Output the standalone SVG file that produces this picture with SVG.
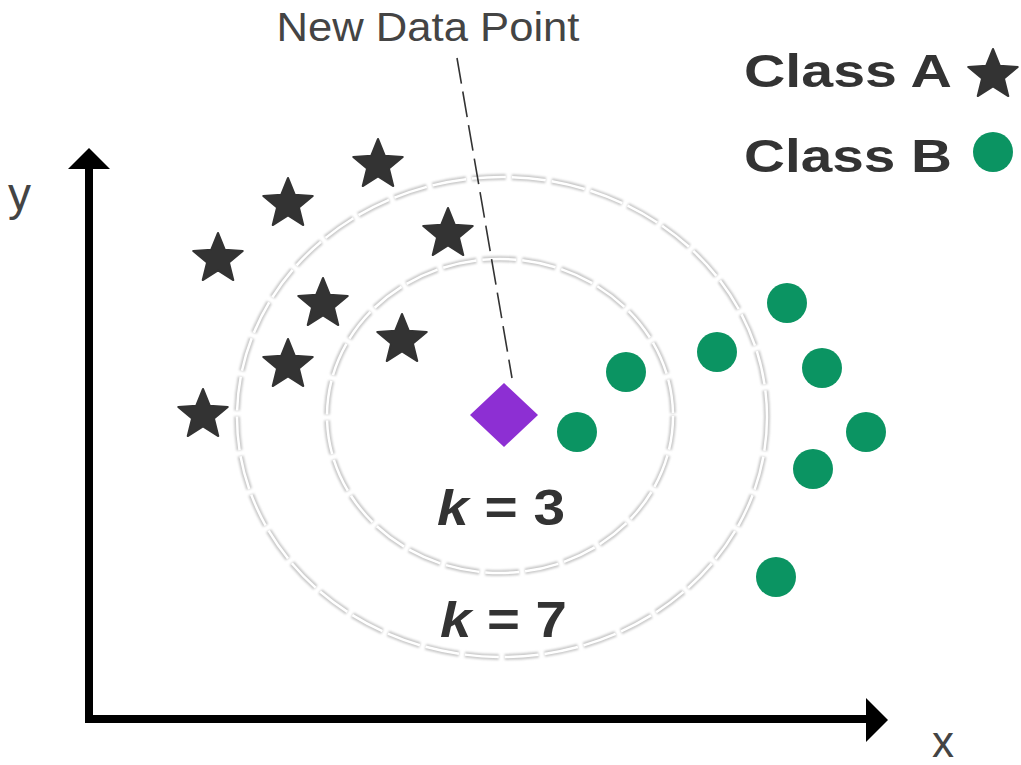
<svg xmlns="http://www.w3.org/2000/svg" width="1021" height="765" viewBox="0 0 1021 765">
<style>
.lbl{font-family:"Liberation Sans",Arial,sans-serif;fill:#444}
.bold{font-family:"Liberation Sans",Arial,sans-serif;font-weight:bold;fill:#333}
.star{fill:#333}
.dot{fill:#0b9462}
.ringShadow{fill:none;stroke:#c8c8c8;stroke-width:6;stroke-dasharray:34 6}
.ring{fill:none;stroke:#fff;stroke-width:2.5;stroke-dasharray:34 6}
.axis{fill:none;stroke:#000;stroke-width:8}
</style>
<defs>
<path id="star" d="M0,-26 L6.76,-9.3 L24.73,-8.03 L10.94,3.55 L15.28,21.03 L0,11.5 L-15.28,21.03 L-10.94,3.55 L-24.73,-8.03 L-6.76,-9.3 Z" stroke="#333" stroke-width="2" stroke-linejoin="round"/>
<filter id="blur" x="-10%" y="-10%" width="120%" height="120%"><feGaussianBlur stdDeviation="1"/></filter>
</defs>
<rect width="1021" height="765" fill="#fff"/>

<g id="rings">
<g filter="url(#blur)">
<ellipse class="ringShadow" cx="502" cy="417" rx="265" ry="240"/>
<ellipse class="ringShadow" cx="500" cy="416" rx="173" ry="157"/>
</g>
<ellipse class="ring" cx="502" cy="417" rx="265" ry="240"/>
<ellipse class="ring" cx="500" cy="416" rx="173" ry="157"/>
</g>

<g id="axes">
<polyline class="axis" points="89,166 89,719 869,719"/>
<polygon points="89,148 68,169 110,169" fill="#000"/>
<polygon points="888,720 866,698 866,742" fill="#000"/>
<text class="lbl" x="8" y="210" font-size="46">y</text>
<text class="lbl" x="932" y="757" font-size="44">x</text>
</g>

<g id="connectors">
<line x1="457" y1="58" x2="512" y2="378" stroke="#333" stroke-width="1.6" stroke-dasharray="26 8"/>
</g>

<g id="label-new">
<text class="lbl" x="428" y="41" font-size="40" text-anchor="middle" textLength="303" lengthAdjust="spacingAndGlyphs">New Data Point</text>
</g>

<g id="classA">
<use href="#star" class="star" x="378" y="165"/>
<use href="#star" class="star" x="288" y="204"/>
<use href="#star" class="star" x="218" y="259"/>
<use href="#star" class="star" x="448" y="234"/>
<use href="#star" class="star" x="323" y="304"/>
<use href="#star" class="star" x="402" y="340"/>
<use href="#star" class="star" x="288" y="365"/>
<use href="#star" class="star" x="203" y="415"/>
</g>

<g id="classB">
<circle class="dot" cx="787" cy="303" r="20"/>
<circle class="dot" cx="717" cy="352" r="20"/>
<circle class="dot" cx="626" cy="372" r="20"/>
<circle class="dot" cx="822" cy="368" r="20"/>
<circle class="dot" cx="577" cy="432" r="20"/>
<circle class="dot" cx="866" cy="432" r="20"/>
<circle class="dot" cx="813" cy="469" r="20"/>
<circle class="dot" cx="776" cy="577" r="20"/>
</g>

<g id="new-point">
<polygon points="504,383 538,415 504,447 470,415" fill="#8d2fd3"/>
</g>

<g id="k3">
<text class="bold" x="437" y="525" font-size="50" textLength="128" lengthAdjust="spacingAndGlyphs"><tspan font-style="italic">k</tspan> = 3</text>
</g>
<g id="k7">
<text class="bold" x="440" y="637" font-size="50" textLength="127" lengthAdjust="spacingAndGlyphs"><tspan font-style="italic">k</tspan> = 7</text>
</g>

<g id="legend">
<text class="bold" x="744" y="87" font-size="47" textLength="208" lengthAdjust="spacingAndGlyphs">Class A</text>
<use href="#star" class="star" x="993" y="75"/>
<text class="bold" x="744" y="172" font-size="47" textLength="208" lengthAdjust="spacingAndGlyphs">Class B</text>
<circle class="dot" cx="993" cy="152" r="20"/>
</g>
</svg>
